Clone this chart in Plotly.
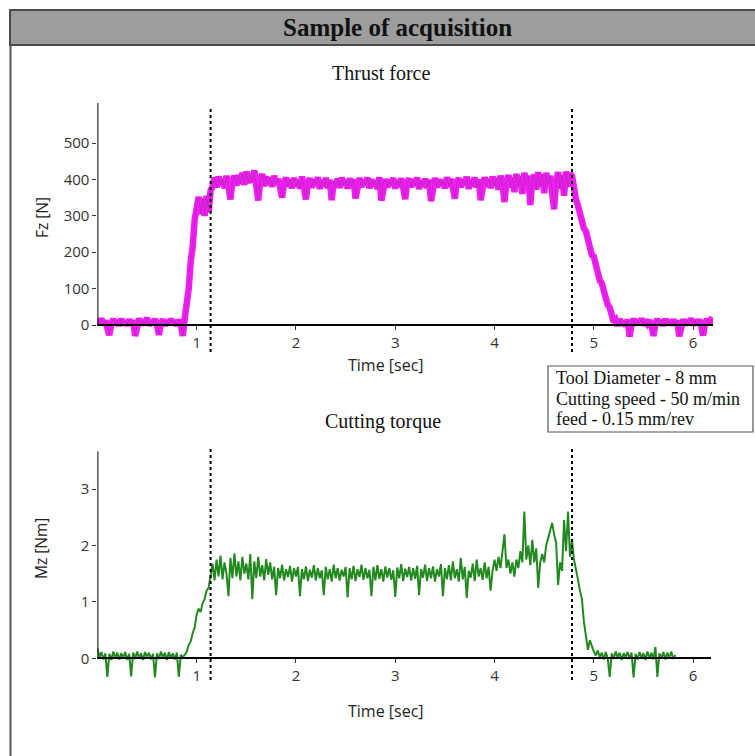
import plotly.graph_objects as go

# ---------------- data ----------------
SAMPLE_STEP = 0.02  # seconds between samples

# Thrust force Fz [N]
fz_values = [
    15, 0, 18, 2, 12, -3, -28, 4, 16, 1,
    14, -2, 17, 3, 11, -1, 15, 2, 13, -30,
    5, 18, 0, 14, 3, 20, -1, 12, 4, 16,
    2, -27, 6, 15, -2, 13, 1, 17, 3, 12,
    -1, 14, 2, -30,
    20, 60, 100, 175, 215, 290, 330, 352, 305, 348, 300, 355, 310, 370,
    380, 405, 378, 408, 385, 402, 376, 410, 382, 345,
    395, 410, 383, 412, 388, 418, 385, 422, 390, 415,
    392, 425, 384, 342, 398, 415, 382, 408, 386, 405,
    380, 410, 385, 402, 378, 350, 390, 405, 380, 400,
    376, 404, 382, 398, 375, 408, 380, 345, 392, 403,
    377, 400, 383, 406, 374, 398, 381, 404, 376, 399,
    343, 395, 380, 402, 377, 405, 384, 398, 375, 403,
    381, 400, 348, 390, 404, 379, 398, 385, 405, 376,
    400, 382, 397, 374, 406, 342, 391, 401, 378, 399,
    384, 404, 375, 398, 380, 403, 377, 346, 393, 402,
    379, 400, 383, 405, 374, 397, 381, 402, 376, 399,
    340, 392, 404, 378, 400, 384, 398, 375, 406, 380,
    401, 377, 347, 394, 403, 379, 399, 385, 407, 374,
    398, 382, 405, 378, 400, 343, 395, 406, 380, 402,
    376, 408, 383, 404, 372, 410, 385, 338, 390, 412,
    378, 405, 365, 415, 382, 408, 360, 418, 385, 410,
    330, 400, 412, 372, 420, 380, 415, 362, 418, 386,
    410, 368, 318, 395, 420, 375, 412, 355, 422, 380,
    415, 410,
    355, 345, 328, 305, 295, 265, 258, 228, 220, 192,
    188, 158, 152, 122, 115, 88, 82, 55, 48, 22, 8,
    14, -2, 16, 1, 12, -3, 15, -32, 3, 17,
    0, 13, 2, 18, -1, 14, 4, 12, 0, -30,
    5, 16, 1, 14, -2, 17, 3, 13, 0, 15,
    2, 12, -31, 4, 16, 0, 14, 3, 18, -1,
    13, 2, 15, 0, -29, 6, 16, 1, 14, 12,
]

# Cutting torque Mz [Nm]
mz_values = [
    0.18, 0.02, 0.11, -0.02, 0.09, -0.33, 0.08, -0.03, 0.12, 0.0,
    0.1, -0.02, 0.09, 0.01, 0.11, -0.03, 0.08, -0.32, 0.1, -0.01,
    0.12, 0.0, 0.09, -0.03, 0.11, 0.02, 0.1, -0.02, 0.08, -0.34,
    0.09, -0.01, 0.12, 0.01, 0.1, -0.03, 0.11, 0.0, 0.09, -0.02,
    0.1, -0.33, 0.06,
    0.02, 0.06, 0.12, 0.24, 0.3, 0.45, 0.55, 0.78, 0.88, 0.82, 0.98, 1.05, 1.2, 1.25, 1.45,
    1.68, 1.38, 1.75, 1.45, 1.82, 1.4, 1.7, 1.5, 1.1, 1.78,
    1.42, 1.86, 1.45, 1.72, 1.38, 1.8, 1.5, 1.68, 1.4, 1.85,
    1.05, 1.72, 1.42, 1.8, 1.45, 1.65, 1.38, 1.76, 1.48, 1.7,
    1.4, 1.62, 1.12, 1.6, 1.42, 1.66, 1.38, 1.58, 1.44, 1.64,
    1.36, 1.6, 1.45, 1.62, 1.1, 1.58, 1.4, 1.63, 1.37, 1.57,
    1.43, 1.65, 1.38, 1.6, 1.42, 1.56, 1.12, 1.62, 1.4, 1.58,
    1.36, 1.66, 1.42, 1.6, 1.38, 1.57, 1.45, 1.62, 1.08, 1.6,
    1.4, 1.64, 1.37, 1.58, 1.44, 1.66, 1.39, 1.6, 1.42, 1.57,
    1.1, 1.62, 1.38, 1.65, 1.41, 1.58, 1.36, 1.63, 1.43, 1.6,
    1.39, 1.56, 1.09, 1.61, 1.42, 1.67, 1.37, 1.59, 1.44, 1.62,
    1.38, 1.6, 1.41, 1.64, 1.12, 1.58, 1.43, 1.66, 1.37, 1.6,
    1.42, 1.63, 1.36, 1.58, 1.45, 1.67, 1.1, 1.6, 1.4, 1.65,
    1.38, 1.72, 1.42, 1.58, 1.36, 1.78, 1.4, 1.62, 1.07, 1.55,
    1.43, 1.68, 1.37, 1.75, 1.45, 1.6, 1.39, 1.7, 1.42, 1.62,
    1.2, 1.55,
    1.75, 1.55, 1.8, 1.6, 1.9, 2.2, 1.6, 1.75, 1.5, 1.7,
    1.45, 1.75, 1.6, 1.9, 1.7, 2.6, 1.75, 2.0, 1.65, 2.1,
    1.7, 1.95, 1.25, 1.7, 1.85, 1.7, 2.0, 2.15, 2.25, 2.4,
    2.2, 2.05, 1.3, 1.7, 1.55, 2.45, 1.9, 2.6, 1.8, 2.1,
    1.75, 1.6, 1.4, 1.2, 1.05, 0.65, 0.4, 0.15, 0.32, 0.2,
    0.12,
    0.05, 0.14, 0.02, 0.1, -0.02, 0.11, 0.0, -0.33, 0.09, -0.01,
    0.12, 0.01, 0.1, -0.03, 0.09, 0.02, 0.11, -0.01, 0.1, -0.34,
    0.08, -0.02, 0.11, 0.01, 0.09, -0.03, 0.12, 0.0, 0.1, -0.02,
    0.2, -0.33, 0.09, 0.0, 0.11, -0.02, 0.1, 0.01, 0.12, -0.01,
    0.06,
]

fz_time = [i * SAMPLE_STEP for i in range(len(fz_values))]
mz_time = [i * SAMPLE_STEP for i in range(len(mz_values))]

x_ticks = [1, 2, 3, 4, 5, 6]
fz_ticks = [0, 100, 200, 300, 400, 500]
mz_ticks = [0, 1, 2, 3]
phase_marks = [1.14, 4.78]  # start / end of full-diameter cutting

title_text = "Sample of acquisition"
top_title = "Thrust force"
bottom_title = "Cutting torque"
info_lines = ["Tool Diameter - 8 mm", "Cutting speed - 50 m/min", "feed - 0.15 mm/rev"]

# ---------------- figure ----------------
W, H = 755, 756


def px(x):
    return x / W


def py(y):
    return 1 - y / H


fig = go.Figure()

fig.add_trace(go.Scatter(x=fz_time, y=fz_values, mode="lines",
                         line=dict(color="#f21ef2", width=6.5), xaxis="x", yaxis="y",
                         hoverinfo="skip", showlegend=False))
fig.add_trace(go.Scatter(x=fz_time, y=fz_values, mode="lines",
                         line=dict(color="#8a2f8a", width=1.0), opacity=0.45,
                         xaxis="x", yaxis="y", hoverinfo="skip", showlegend=False))
fig.add_trace(go.Scatter(x=mz_time, y=mz_values, mode="lines",
                         line=dict(color="#22891f", width=2.0), xaxis="x2", yaxis="y2",
                         hoverinfo="skip", showlegend=False))

tick_font = dict(family="Open Sans", size=15, color="#333333")
common_x = dict(showline=True, linecolor="black", linewidth=2, ticks="outside",
                ticklen=4, tickwidth=1.2, tickcolor="#333333", tickvals=x_ticks,
                tickfont=tick_font, showgrid=False, zeroline=False, anchor="free")
common_y = dict(showline=False, ticks="outside", ticklen=4, tickwidth=1.2,
                tickcolor="#333333", tickfont=tick_font, showgrid=False, zeroline=False)

fig.update_layout(
    width=W, height=H, margin=dict(l=0, r=0, t=0, b=0),
    paper_bgcolor="white", plot_bgcolor="rgba(0,0,0,0)",
    xaxis=dict(domain=[px(97.4), px(713)], range=[0, 6.2], position=py(325), **common_x),
    yaxis=dict(domain=[py(341.4), py(103)], range=[-45, 610], tickvals=fz_ticks,
               anchor="x", **common_y),
    xaxis2=dict(domain=[px(97.4), px(711)], range=[0, 6.18], position=py(658.3), **common_x),
    yaxis2=dict(domain=[py(683.7), py(451.3)], range=[-0.45, 3.67], tickvals=mz_ticks,
                anchor="x2", **common_y),
)

shapes = [
    # title bar
    dict(type="rect", xref="paper", yref="paper", x0=px(10), x1=px(770), y0=py(45), y1=py(10),
         fillcolor="#9d9d9d", line=dict(color="#4a4a4a", width=2), layer="below"),
    # left frame border
    dict(type="line", xref="paper", yref="paper", x0=px(10.5), x1=px(10.5), y0=py(45), y1=py(760),
         line=dict(color="#555555", width=2)),
    # y axis lines
    dict(type="line", xref="x", yref="y", x0=0, x1=0, y0=0, y1=610,
         line=dict(color="black", width=2)),
    dict(type="line", xref="x2", yref="y2", x0=0, x1=0, y0=0, y1=3.67,
         line=dict(color="black", width=2)),
    # info box
    dict(type="rect", xref="paper", yref="paper", x0=px(548), x1=px(753), y0=py(432), y1=py(366),
         fillcolor="white", line=dict(color="#555555", width=1.2)),
]
for t in phase_marks:
    shapes.append(dict(type="line", xref="x", yref="paper", x0=t, x1=t, y0=py(352), y1=py(108),
                       line=dict(color="black", width=2, dash="dot")))
    shapes.append(dict(type="line", xref="x2", yref="paper", x0=t, x1=t, y0=py(680), y1=py(447),
                       line=dict(color="black", width=2, dash="dot")))
fig.update_layout(shapes=shapes)

serif = "Liberation Serif"
sans = "Open Sans"
ann = [
    dict(text=f"<b>{title_text}</b>", x=px(397), y=py(28), font=dict(family=serif, size=25, color="#111")),
    dict(text=top_title, x=px(381), y=py(73), font=dict(family=serif, size=20, color="#111")),
    dict(text=bottom_title, x=px(383), y=py(421), font=dict(family=serif, size=20, color="#111")),
    dict(text="Fz [N]", x=px(42), y=py(218), textangle=-90, font=dict(family=sans, size=15.5, color="#222")),
    dict(text="Mz [Nm]", x=px(41), y=py(549), textangle=-90, font=dict(family=sans, size=15.5, color="#222")),
    dict(text="Time [sec]", x=px(386), y=py(365), font=dict(family=sans, size=16, color="#222")),
    dict(text="Time [sec]", x=px(386), y=py(711), font=dict(family=sans, size=16, color="#222")),
]
for k, line in enumerate(info_lines):
    ann.append(dict(text=line, x=px(554), y=py(378 + 20.5 * k), xanchor="left",
                    font=dict(family=serif, size=18, color="#111")))
for a in ann:
    a.setdefault("xanchor", "center")
    a.update(xref="paper", yref="paper", yanchor="middle", showarrow=False)
fig.update_layout(annotations=ann)

fig.write_html("out.html")
